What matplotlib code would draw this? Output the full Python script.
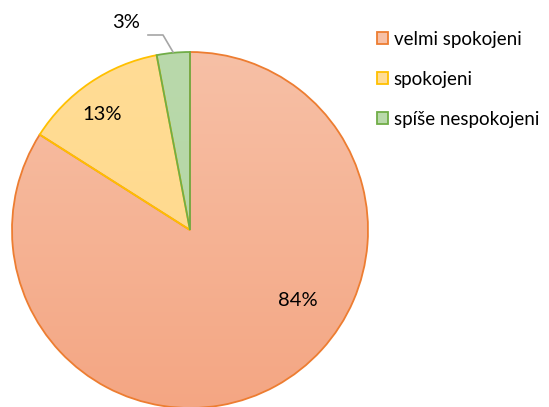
import matplotlib.pyplot as plt
import matplotlib.colors as mcolors
from matplotlib.patches import Patch
import numpy as np

labels = ['velmi spokojeni', 'spokojeni', 'spíše nespokojeni']
values = [84, 13, 3]
pct_text = ['84%', '13%', '3%']

fills_top = ['#F7C0A6', '#FFDC95', '#B9D9AB']
fills_bot = ['#F4A683', '#FFD98A', '#B3D5A3']
edges = ['#ED7D31', '#FFC000', '#70AD47']

plt.rcParams['font.family'] = ['Lato', 'DejaVu Sans']

fig = plt.figure(figsize=(5.49, 4.07), dpi=100)
ax = fig.add_axes([0, 0, 1, 1])

cx, cy, r = 190, 177, 178
wedges, _ = ax.pie(values, startangle=90, counterclock=False, center=(cx, cy),
                   radius=r, colors=fills_bot, frame=True,
                   wedgeprops=dict(linewidth=1.3, edgecolor='none'))

# vertical gradient inside each wedge
for w, top, bot, ec in zip(wedges, fills_top, fills_bot, edges):
    c1 = np.array(mcolors.to_rgb(top))
    c2 = np.array(mcolors.to_rgb(bot))
    t = np.linspace(0, 1, 256)[:, None]
    grad = (c1 * (1 - t) + c2 * t)[:, None, :]
    im = ax.imshow(grad, extent=(cx - r, cx + r, cy - r, cy + r), aspect='auto',
                   origin='upper', zorder=1.5)
    im.set_clip_path(w)
    w.set_facecolor('none')
    w.set_edgecolor(ec)
    w.set_zorder(2)

ax.set_xlim(0, 549)
ax.set_ylim(0, 407)
ax.set_aspect('equal')
ax.axis('off')

ax.text(298, 407 - 301, pct_text[0], fontsize=14.5, ha='center', va='center', color='#000000')
ax.text(102, 407 - 114, pct_text[1], fontsize=14.5, ha='center', va='center', color='#000000')
ax.text(126, 407 - 22, pct_text[2], fontsize=14.5, ha='center', va='center', color='#000000')
ax.plot([148, 163, 173], [407 - 35, 407 - 35, 407 - 52], color='#A6A6A6', lw=1.2, zorder=3)

handles = [Patch(facecolor=f, edgecolor=e, linewidth=1.3) for f, e in zip(fills_top, edges)]
leg = fig.legend(handles, labels, loc='upper left', bbox_to_anchor=(369 / 549, 1 - 23 / 407),
                 frameon=False, fontsize=13.5, handlelength=0.62, handleheight=0.62,
                 handletextpad=0.3, labelspacing=1.24, borderaxespad=0)

fig.savefig('out.png', dpi=100)
